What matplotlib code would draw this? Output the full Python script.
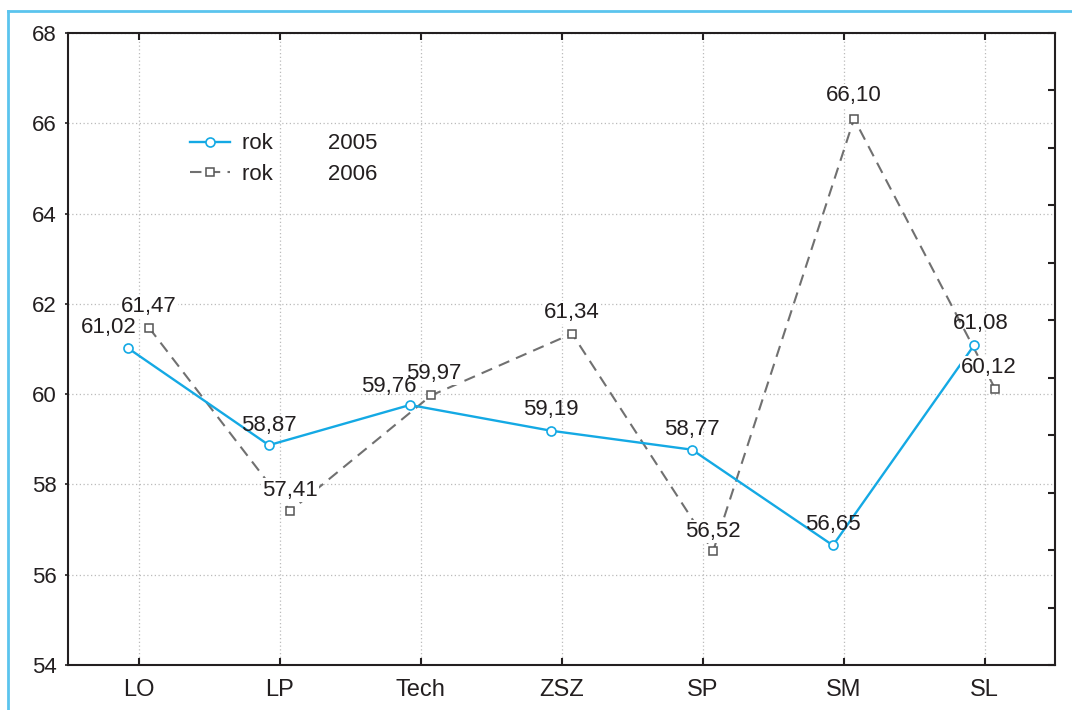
import numpy as np
import matplotlib.pyplot as plt
from matplotlib.lines import Line2D

plt.rcParams['font.family'] = ['Liberation Sans', 'DejaVu Sans']

# data
categories = ["LO", "LP", "Tech", "ZSZ", "SP", "SM", "SL"]
rok2005 = [61.02, 58.87, 59.76, 59.19, 58.77, 56.65, 61.08]
rok2006 = [61.47, 57.41, 59.97, 61.34, 56.52, 66.10, 60.12]
y_ticks = [54, 56, 58, 60, 62, 64, 66, 68]

# label offsets in pixels (dx, dy up)
off2005 = [(-19, 21), (0, 20), (-21, 18), (0, 21), (0, 20), (0, 21), (7, 22)]
off2006 = [(0, 21), (0, 21), (3, 22), (0, 21), (0, 20), (0, 23), (-6, 21)]

W, H = 1072, 710
fig = plt.figure(figsize=(W/100, H/100), dpi=100)
ax = fig.add_axes([68/W, 45/H, 987/W, 632/H])

# light blue frame (top and left)
fig.add_artist(Line2D([8/W, 1], [1-11/H, 1-11/H], transform=fig.transFigure, color='#5BC4EE', lw=2))
fig.add_artist(Line2D([8/W, 8/W], [0, 1-11/H], transform=fig.transFigure, color='#5BC4EE', lw=2))

x = np.arange(len(categories))
shift = 0.075
c05 = '#14A9E4'
c06 = '#707070'

ax.plot(x - shift, rok2005, color=c05, lw=1.7, marker='o', ms=6.5, mfc='white', mec=c05, mew=1.2,
        label='rok' + ' ' * 9 + '2005', zorder=4)
ax.plot(x + shift, rok2006, color=c06, lw=1.5, ls=(0, (5.5, 3.5)), marker='s', ms=6, mfc='white',
        mec='#555555', mew=1.1, label='rok' + ' ' * 9 + '2006', zorder=3)

for i, v in enumerate(rok2005):
    dx, dy = off2005[i]
    ax.annotate(f"{v:.2f}".replace('.', ','), (x[i] - shift, v), xytext=(dx*0.72, dy*0.72),
                textcoords='offset points', ha='center', va='center', fontsize=16, color='#231F20', zorder=6)
for i, v in enumerate(rok2006):
    dx, dy = off2006[i]
    ax.annotate(f"{v:.2f}".replace('.', ','), (x[i] + shift, v), xytext=(dx*0.72, dy*0.72),
                textcoords='offset points', ha='center', va='center', fontsize=16, color='#231F20', zorder=5,
                bbox=dict(boxstyle='square,pad=0.05', fc='white', ec='none'))

ax.set_xlim(-0.5, 6.5)
ax.set_ylim(54, 68)
ax.set_xticks(x, categories)
ax.set_yticks(y_ticks)
ax.grid(True, color='#BBBBBB', linestyle=(0, (1, 2)), lw=0.9)
ax.set_axisbelow(True)

for s in ax.spines.values():
    s.set_linewidth(1.5)
    s.set_color('#231F20')
ax.tick_params(axis='x', direction='in', length=5, width=1.5, top=True, labelsize=17, pad=10, colors='#231F20')
ax.tick_params(axis='y', direction='out', length=2, width=1.2, labelsize=16, pad=6, colors='#231F20')

# right side ticks
ax2 = ax.twinx()
ax2.set_ylim(0, 11)
ax2.set_yticks(range(12))
ax2.tick_params(axis='y', direction='in', length=5, width=1.5, labelright=False, colors='#231F20')
for s in ax2.spines.values():
    s.set_visible(False)

leg = ax.legend(loc='upper left', bbox_to_anchor=(0.1236, 0.841), frameon=False, fontsize=16,
                handlelength=1.82, handletextpad=0.5, labelspacing=0.43, borderpad=0, borderaxespad=0)
for t in leg.get_texts():
    t.set_color('#231F20')

fig.savefig('out.png', dpi=100)
